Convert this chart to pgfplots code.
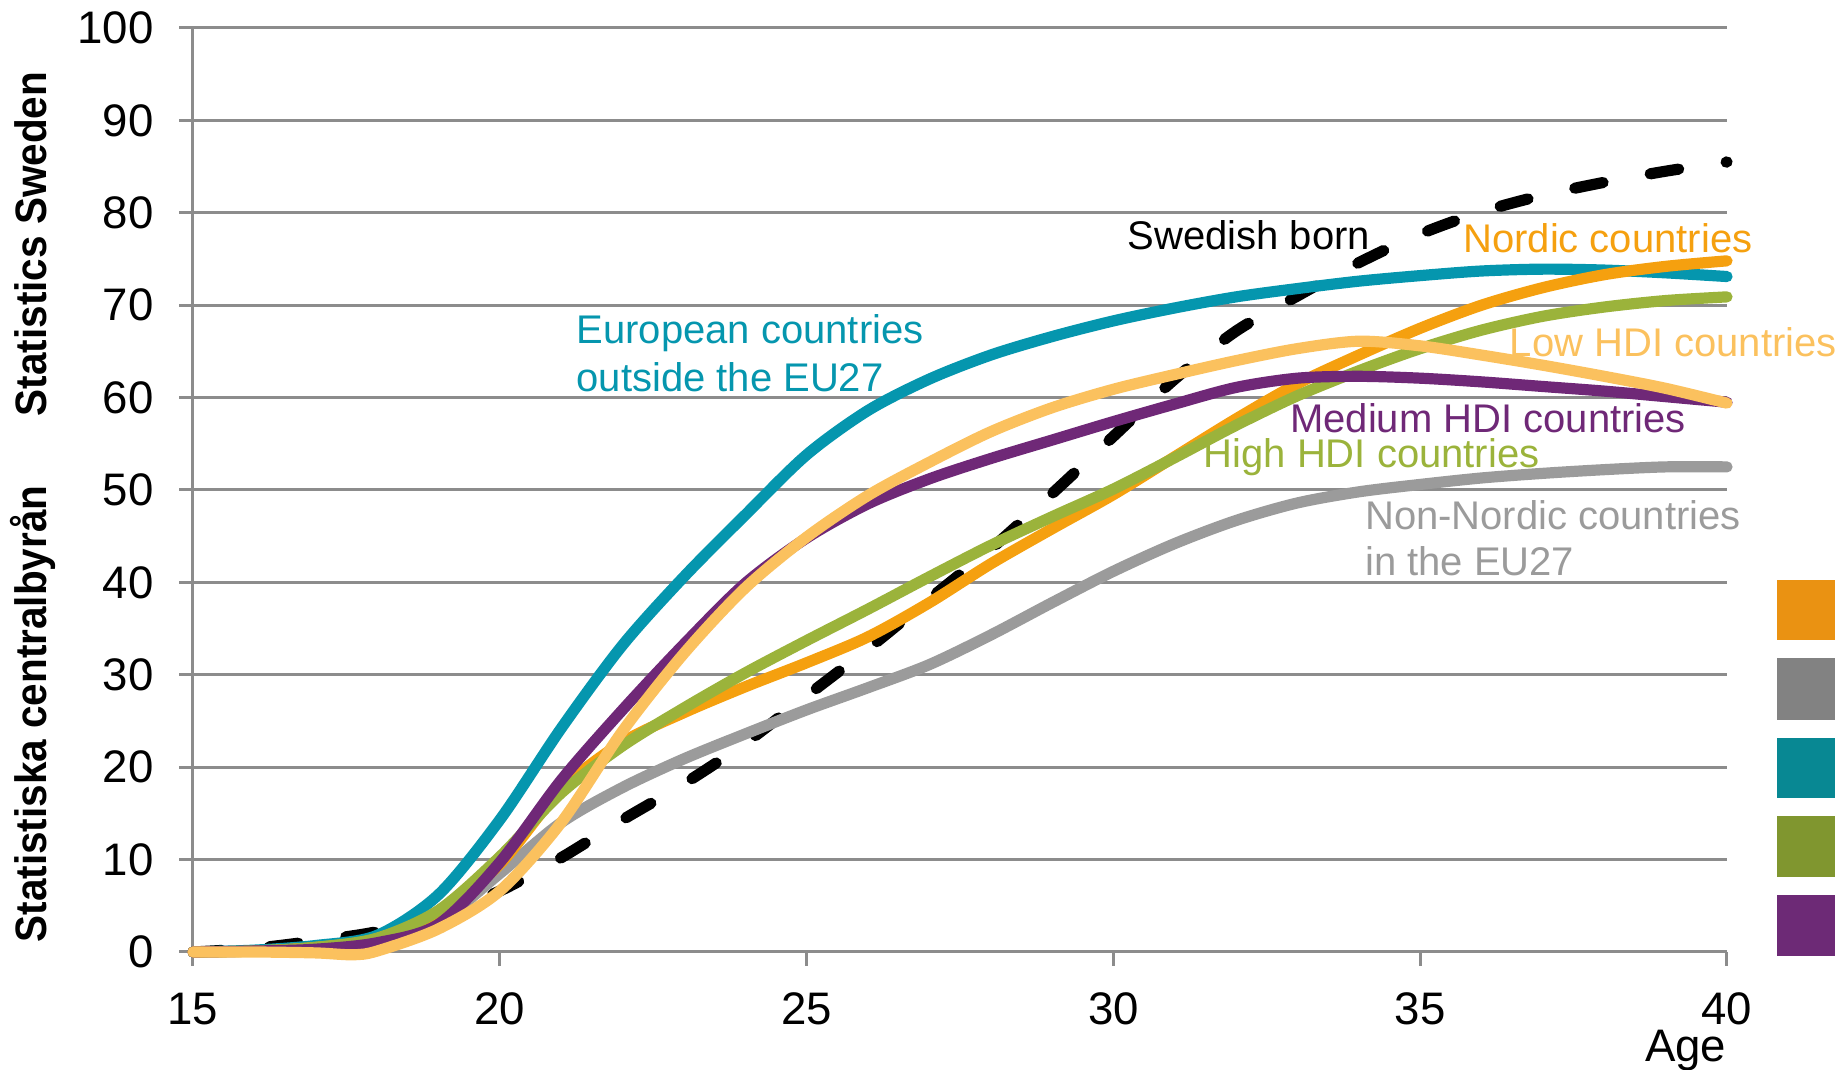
\documentclass[border=0pt]{standalone}
\usepackage{fontspec}
\setmainfont{Liberation Sans}
\newfontfamily\condfont[FakeStretch=0.92]{Liberation Sans}
\usepackage{pgfplots}
\pgfplotsset{compat=1.18}

\definecolor{gridgray}{HTML}{8C8C8C}
\definecolor{nordic}{HTML}{F5A00F}
\definecolor{lowhdi}{HTML}{FBC15E}
\definecolor{teal}{HTML}{0596AE}
\definecolor{highhdi}{HTML}{9BB33B}
\definecolor{medhdi}{HTML}{6F2877}
\definecolor{nonnordic}{HTML}{9B9B9B}

\begin{document}
\begin{tikzpicture}
\useasboundingbox (-48.25pt,-29.5pt) rectangle (410.5pt,238pt);
\begin{axis}[
    scale only axis, width=383.5pt, height=231pt,
    xmin=15, xmax=40, ymin=0, ymax=100,
    xtick={15,20,...,40}, ytick={0,10,...,100},
    axis lines*=left,
    axis line style={gridgray, line width=0.75pt},
    ymajorgrids, grid style={gridgray, line width=0.75pt},
    tick style={gridgray, line width=0.75pt},
    tick align=outside, major tick length=3.4pt,
    clip=false,
    font=\fontsize{11.4}{13}\selectfont,
    xticklabel style={yshift=-3.3pt},
    yticklabel style={xshift=-2.9pt},
    /pgf/number format/assume math mode=true,
    every axis plot/.append style={line width=2.8pt, line cap=round, line join=round, smooth},
]
% Swedish born
\addplot[black, dash pattern=on 7.2pt off 12pt] coordinates {
 (15,0) (16,0.4) (17,1.2) (18,2.2) (19,4) (20,6.6) (21,10.2) (22,14.3) (23,18.2) (24,22.6)
 (25,27.7) (26,32.8) (27,38.2) (28,43.6) (29,49.6) (30,55.8) (31,62) (32,67.2) (33,71)
 (34,74.6) (35,77.7) (36,80.1) (37,81.9) (38,83.3) (39,84.5) (40,85.5)};
% Non-Nordic countries in the EU27
\addplot[nonnordic] coordinates {
 (15,0) (16,0.1) (17,0.4) (18,1.2) (19,3.2) (20,8.5) (21,14) (22,17.8) (23,20.9) (24,23.6)
 (25,26.2) (26,28.6) (27,31.1) (28,34.3) (29,37.8) (30,41.2) (31,44.2) (32,46.7) (33,48.6)
 (34,49.8) (35,50.6) (36,51.3) (37,51.8) (38,52.2) (39,52.5) (40,52.5)};
% European countries outside the EU27
\addplot[teal] coordinates {
 (15,0) (16,0.2) (17,0.7) (18,1.8) (19,6.2) (20,14.3) (21,24.2) (22,33.2) (23,40.6) (24,47.3)
 (25,53.8) (26,58.6) (27,62) (28,64.6) (29,66.6) (30,68.3) (31,69.7) (32,70.9) (33,71.8)
 (34,72.6) (35,73.2) (36,73.7) (37,73.9) (38,73.8) (39,73.5) (40,73.1)};
% Nordic countries
\addplot[nordic] coordinates {
 (15,0) (16,0.1) (17,0.5) (18,1.4) (19,4.2) (20,9.5) (21,17.6) (22,22.7) (23,25.9) (24,28.7)
 (25,31.3) (26,34.1) (27,37.8) (28,42) (29,45.8) (30,49.5) (31,53.6) (32,57.7) (33,61.5)
 (34,64.6) (35,67.5) (36,70) (37,71.9) (38,73.3) (39,74.2) (40,74.8)};
% High HDI countries
\addplot[highhdi] coordinates {
 (15,0) (16,0.1) (17,0.5) (18,1.5) (19,4.5) (20,10.3) (21,17.2) (22,22.3) (23,26.4) (24,30.2)
 (25,33.7) (26,37.1) (27,40.6) (28,44) (29,47.1) (30,50.1) (31,53.5) (32,57) (33,60.2)
 (34,62.9) (35,65.3) (36,67.3) (37,68.8) (38,69.8) (39,70.5) (40,70.9)};
% Medium HDI countries
\addplot[medhdi] coordinates {
 (15,0) (16,0.1) (17,0.3) (18,1) (19,3) (20,9.7) (21,18.6) (22,26.2) (23,33.3) (24,39.9)
 (25,44.8) (26,48.5) (27,51.2) (28,53.4) (29,55.4) (30,57.4) (31,59.3) (32,61.1) (33,62.1)
 (34,62.3) (35,62.1) (36,61.7) (37,61.2) (38,60.7) (39,60.1) (40,59.5)};
% Low HDI countries
\addplot[lowhdi] coordinates {
 (15,0) (16,0) (17,-0.1) (17.6,-0.3) (18,0.1) (19,2.5) (20,6.6) (21,14) (22,23.9) (23,32.3)
 (24,39.4) (25,44.9) (26,49.4) (27,53) (28,56.3) (29,58.9) (30,60.9) (31,62.5) (32,64) (33,65.3)
 (34,66.1) (35,65.6) (36,64.6) (37,63.5) (38,62.3) (39,61) (40,59.4)};

\begin{scope}[every node/.style={inner sep=0pt, anchor=base west, font=\fontsize{10}{12}\selectfont}]
\node[text=black] at (axis cs:30.22,76) {Swedish born};
\node[text=nordic] at (axis cs:35.69,75.7) {Nordic countries};
\node[text=lowhdi] at (axis cs:36.45,64.4) {Low HDI countries};
\node[text=medhdi] at (axis cs:32.87,56.2) {Medium HDI countries};
\node[text=highhdi] at (axis cs:31.46,52.4) {High HDI countries};
\node[text=nonnordic] at (axis cs:34.09,45.75) {Non-Nordic countries};
\node[text=nonnordic] at (axis cs:34.09,40.7) {in the EU27};
\node[text=teal] at (axis cs:21.24,65.8) {European countries};
\node[text=teal] at (axis cs:21.24,60.7) {outside the EU27};
\end{scope}
\node[inner sep=0pt, anchor=base east] at (rel axis cs:1,0) [yshift=-27.3pt] {Age};
\end{axis}
% y-axis caption
\node[rotate=90, anchor=base, inner sep=0pt, font=\condfont\bfseries\fontsize{11}{13}\selectfont] at (-36.5pt,177pt) {Statistics Sweden};
\node[rotate=90, anchor=base, inner sep=0pt, font=\condfont\bfseries\fontsize{11}{13}\selectfont] at (-36.5pt,59.5pt) {Statistiska centralbyrån};
% colour blocks at the right edge
\fill[fill={rgb,255:red,234;green,146;blue,18}] (396pt,78pt) rectangle (410.5pt,93pt);
\fill[fill={rgb,255:red,130;green,130;blue,130}] (396pt,58pt) rectangle (410.5pt,73.5pt);
\fill[fill={rgb,255:red,8;green,136;blue,147}] (396pt,38.5pt) rectangle (410.5pt,53.5pt);
\fill[fill={rgb,255:red,128;green,150;blue,47}] (396pt,18.75pt) rectangle (410.5pt,34pt);
\fill[fill={rgb,255:red,109;green,42;blue,118}] (396pt,-1pt) rectangle (410.5pt,14.25pt);
\end{tikzpicture}
\end{document}
